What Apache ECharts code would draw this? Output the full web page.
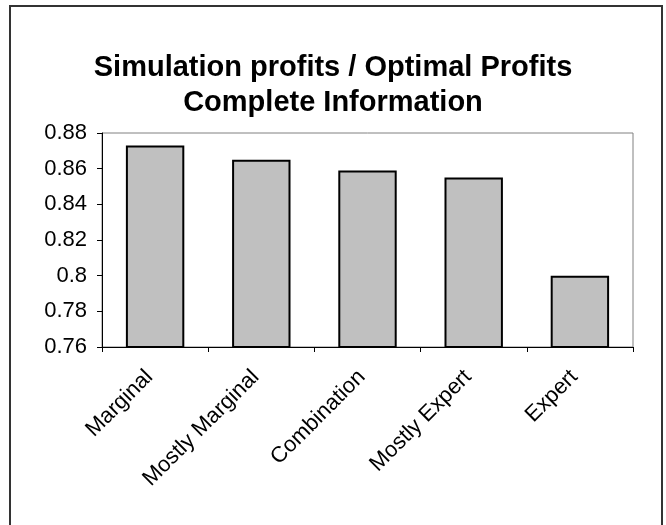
<!DOCTYPE html>
<html>
<head>
<meta charset="utf-8">
<script src="https://cdn.jsdelivr.net/npm/echarts@6/dist/echarts.min.js"></script>
<style>
  html, body { margin: 0; padding: 0; background: #fff; }
  #chart { width: 666px; height: 525px; }
</style>
</head>
<body>
<div id="chart"></div>
<script>
let chart = echarts.init(document.getElementById('chart'))

const categories = ['Marginal', 'Mostly Marginal', 'Combination', 'Mostly Expert', 'Expert'];
const ratios = [0.873, 0.865, 0.859, 0.855, 0.800];
const yMin = 0.76, yMax = 0.88, yStep = 0.02;

const font = 'Liberation Sans, Arial, sans-serif';

let option = {
    animation: false,
    backgroundColor: '#fff',
    title: {
        text: 'Simulation profits / Optimal Profits\nComplete Information',
        left: 'center',
        top: 45,
        textStyle: {
            fontFamily: font,
            fontSize: 29,
            fontWeight: 'bold',
            color: '#000',
            lineHeight: 35
        }
    },
    // outer frame of the chart
    graphic: [{
        type: 'rect',
        shape: { x: 10, y: 6, width: 652, height: 540 },
        style: { fill: 'none', stroke: '#333', lineWidth: 2 },
        silent: true
    }],
    grid: {
        left: 102,
        right: 33,
        top: 133,
        bottom: 178,
        show: true,
        borderColor: '#808080',
        borderWidth: 1
    },
    xAxis: {
        type: 'category',
        data: categories,
        axisLine: { lineStyle: { color: '#000', width: 1 } },
        axisTick: { show: true, length: 5, lineStyle: { color: '#000' } },
        axisLabel: {
            rotate: 45,
            interval: 0,
            margin: 21,
            padding: [0, 8, 0, 0], // nudges rotated labels left/down
            fontFamily: font,
            fontSize: 22,
            color: '#000'
        }
    },
    yAxis: {
        type: 'value',
        min: yMin,
        max: yMax,
        interval: yStep,
        splitLine: { show: false },
        axisLine: { show: true, lineStyle: { color: '#000', width: 1 } },
        axisTick: { show: true, length: 5, lineStyle: { color: '#000' } },
        axisLabel: {
            margin: 15,
            fontFamily: font,
            fontSize: 22,
            color: '#000',
            formatter: v => String(parseFloat(v.toFixed(2)))
        }
    },
    series: [{
        type: 'bar',
        data: ratios,
        barWidth: '55%',
        itemStyle: {
            color: '#c0c0c0',
            borderColor: '#000',
            borderWidth: 2
        }
    }]
}

chart.setOption(option);
</script>
</body>
</html>
